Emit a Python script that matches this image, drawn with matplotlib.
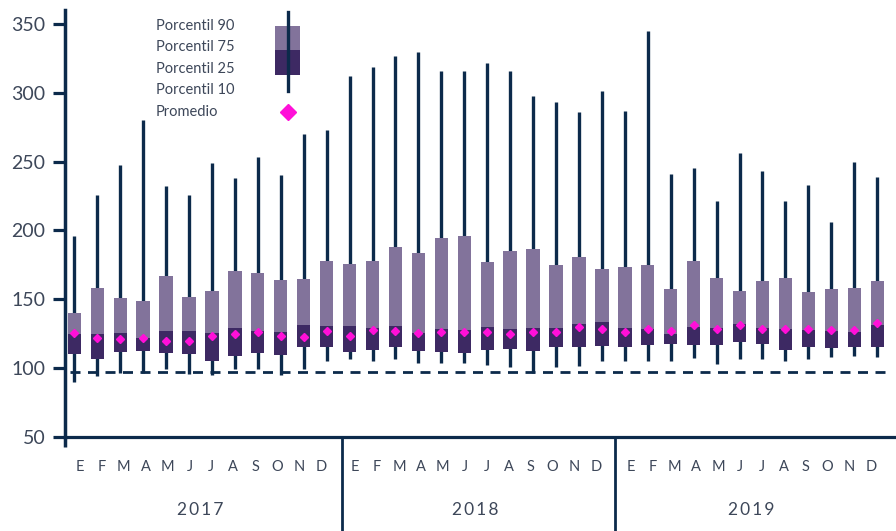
import matplotlib
matplotlib.use("Agg")
import matplotlib.pyplot as plt
import matplotlib.transforms as mtransforms
from matplotlib.patches import Rectangle
from matplotlib.lines import Line2D
import numpy as np

plt.rcParams['font.family'] = ['Lato', 'DejaVu Sans']

# ---------------- data ----------------
years = ["2017", "2018", "2019"]
months = ["E", "F", "M", "A", "M", "J", "J", "A", "S", "O", "N", "D"]

vmax = [196, 226, 247.5, 280, 232, 226, 249, 238, 253, 240, 270, 273,
        312, 319, 327, 330, 316, 316, 322, 316, 298, 293, 286, 301,
        287, 345, 241, 245, 221, 256, 243, 221, 233, 206, 250, 239]
p90 = [140, 158, 150.7, 148.6, 166.8, 151.5, 155.8, 170.4, 168.9, 163.8, 164.6, 177.7,
       175.5, 177.7, 187.8, 183.5, 194.4, 195.8, 176.9, 184.9, 186.4, 174.8, 180.6, 171.8,
       173.3, 174.8, 157.3, 177.7, 165.3, 155.8, 163.1, 165.3, 155.1, 157.3, 158, 163.1]
p75 = [124.6, 124.6, 125.3, 121.7, 126.7, 126.7, 125.3, 128.9, 126.7, 126, 131.1, 130.4,
       130.4, 128.9, 130.4, 125.5, 128.2, 127.5, 129.7, 128.2, 128.9, 128.9, 131.8, 133.3,
       128.9, 128.2, 124.6, 129.7, 128.9, 131.8, 128.9, 128.2, 127.5, 126.7, 126, 131.1]
p25 = [110, 106.6, 111.7, 112.4, 111, 110, 105.2, 108.6, 111, 109.5, 115.3, 115.3,
       111.7, 112.9, 115.3, 112.4, 111.7, 111, 112.9, 113.9, 112.4, 115.3, 115.3, 116,
       115.3, 116.8, 117.5, 116.8, 116.8, 119, 117.5, 113.2, 115.3, 114.6, 115.3, 115.3]
p10 = [90, 94, 96, 96, 99, 95.5, 95, 99.3, 99.3, 95, 99.3, 105.2,
       106.6, 105.1, 106.6, 103.7, 103.7, 103.7, 102.2, 100.8, 96.4, 100.8, 101.5, 105.1,
       105.2, 105.2, 105.2, 107.3, 103, 106.6, 106.6, 105.2, 106.6, 108, 108.8, 108]
mean = [125.5, 121.7, 121.2, 121.7, 119.5, 119.5, 123.4, 124.6, 125.8, 123.2, 122.7, 126.5,
        123.1, 127.5, 127, 125.5, 126.2, 125.7, 125.7, 124.6, 125.7, 126.2, 129.4, 128.2,
        126.3, 128.4, 127, 130.9, 128.4, 130.9, 128.4, 128.4, 128.4, 127.7, 127.7, 132.8]
reference_level = 97
legend_labels = ["Porcentil 90", "Porcentil 75", "Porcentil 25", "Porcentil 10", "Promedio"]

# ---------------- style ----------------
NAVY = "#0c2a4b"
LIGHT = "#82739b"
DARK = "#3d2963"
MAGENTA = "#ff10d8"
TEXT = "#3d4759"

W, H = 896, 531
fig = plt.figure(figsize=(W / 100, H / 100), dpi=100)
ax_left, ax_right, ax_bot, ax_top = 65, 896, 436.5, 10.3
ax = fig.add_axes([ax_left / W, 1 - ax_bot / H, (ax_right - ax_left) / W, (ax_bot - ax_top) / H])

x = np.arange(len(vmax))
p10a, p25a, p75a, p90a, vmaxa = map(np.array, (p10, p25, p75, p90, vmax))

ax.vlines(x, p10a, vmaxa, color=NAVY, lw=2.4, zorder=2)
ax.bar(x, p75a - p25a, bottom=p25a, width=0.58, color=DARK, zorder=3, linewidth=0)
ax.bar(x, p90a - p75a, bottom=p75a, width=0.58, color=LIGHT, zorder=3, linewidth=0)
ax.plot(x, mean, linestyle='none', marker='D', ms=4.3, color=MAGENTA, mec=MAGENTA, zorder=4)

ax.hlines(reference_level, -0.19, 35.46, color=NAVY, lw=2.0,
          linestyles=(0, (3.6, 2.7)), zorder=1)

ax.set_xlim(-0.405, 35.82)
ax.set_ylim(50, 360)
ax.set_yticks([50, 100, 150, 200, 250, 300, 350])
ax.set_xticks([])
for s in ("top", "right"):
    ax.spines[s].set_visible(False)
ax.spines["left"].set_color(NAVY)
ax.spines["left"].set_linewidth(2.5)
ax.spines["bottom"].set_color(NAVY)
ax.spines["bottom"].set_linewidth(2.3)
ax.tick_params(axis='y', direction='out', length=8.5, width=2.3, color=NAVY,
               labelsize=14, labelcolor=TEXT, pad=5.5)

# y-axis extension below the x axis
fig.add_artist(Line2D([ax_left / W, ax_left / W], [1 - 436 / H, 1 - 447 / H],
                      color=NAVY, lw=2.5, solid_capstyle='butt'))

# month / year labels and separators
trans = mtransforms.blended_transform_factory(ax.transData, ax.transAxes)
ah = ax_bot - ax_top
month_y = -(466.7 - ax_bot) / ah
year_y = -(510 - ax_bot) / ah
for g, yr in enumerate(years):
    c = 12 * g + 5.5
    for k, m in enumerate(months):
        ax.text(c + (k - 5.5) * 0.955, month_y, m, transform=trans, ha='center', va='center',
                fontsize=10.5, color=TEXT)
    ax.text(c, year_y, "\u2009".join(yr), transform=trans, ha='center', va='center',
            fontsize=12.5, color=TEXT)
for sx in (11.68, 23.57):
    ax.add_line(Line2D([sx, sx], [0, -(H - ax_bot) / ah], transform=trans, color=NAVY,
                       lw=2.0, clip_on=False))

# legend (figure pixel coords)
def fx(px):
    return px / W

def fy(py):
    return 1 - py / H

fig.add_artist(Line2D([fx(287.7), fx(287.7)], [fy(11.7), fy(90.7)], color=NAVY, lw=2.4))
fig.add_artist(Rectangle((fx(275), fy(74.7)), fx(300) - fx(275), fy(50) - fy(74.7),
                         transform=fig.transFigure, color=DARK, lw=0))
fig.add_artist(Rectangle((fx(275), fy(50)), fx(300) - fx(275), fy(26) - fy(50),
                         transform=fig.transFigure, color=LIGHT, lw=0))
fig.add_artist(Line2D([fx(287.7)], [fy(111.7)], marker='D', ms=8, color=MAGENTA,
                      mec=MAGENTA, linestyle='none'))
for lab, py in zip(legend_labels, [26, 47, 69, 90, 111.7]):
    fig.text(fx(156), fy(py), lab, ha='left', va='center', fontsize=10.5, color=TEXT)

fig.savefig("out.png", dpi=100)
